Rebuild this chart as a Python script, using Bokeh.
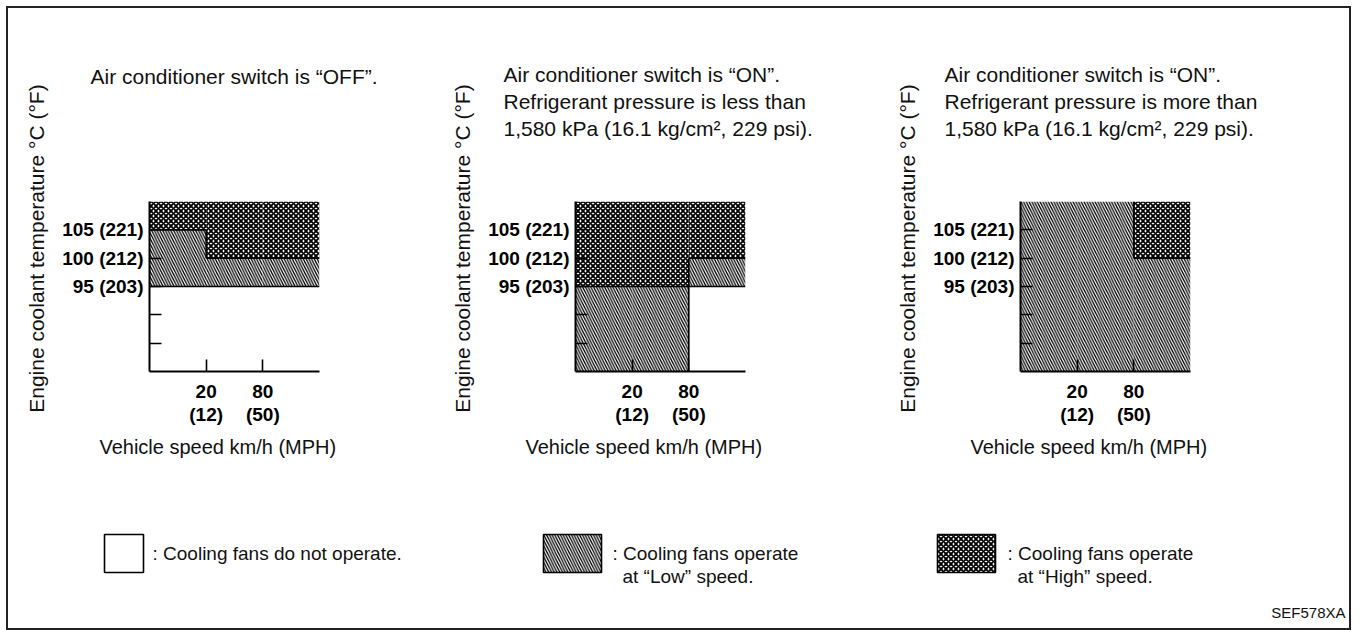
from bokeh.plotting import figure
from bokeh.layouts import row, column
from bokeh.models import Range1d, FixedTicker, Title
from bokeh.embed import file_html
from bokeh.resources import INLINE
from bokeh.core.properties import value

FONT = "Liberation Sans"

# ---------------- data ----------------
speed_kmh = [20, 80]
speed_mph = [12, 50]
temp_ticks_c = [85, 90, 95, 100, 105]
temp_labeled_c = [95, 100, 105]
temp_labeled_f = [203, 212, 221]
temp_min, temp_max = 80, 110

panel_titles = [
    ["Air conditioner switch is \u201cOFF\u201d."],
    ["Air conditioner switch is \u201cON\u201d.",
     "Refrigerant pressure is less than",
     "1,580 kPa (16.1 kg/cm\u00b2, 229 psi)."],
    ["Air conditioner switch is \u201cON\u201d.",
     "Refrigerant pressure is more than",
     "1,580 kPa (16.1 kg/cm\u00b2, 229 psi)."],
]
# speed bands: below 20 km/h, 20-80 km/h, above 80 km/h
band_index = [0, 1, 2]
# temperature (C) where "Low" speed starts, and where "High" speed starts
low_from = [[95, 95, 95], [80, 80, 95], [80, 80, 80]]
high_from = [[105, 100, 100], [95, 95, 100], [110, 110, 100]]

y_axis_title = "Engine coolant temperature \u00b0C (\u00b0F)"
x_axis_title = "Vehicle speed km/h (MPH)"

legend_labels = [
    [": Cooling fans do not operate."],
    [": Cooling fans operate", "at \u201cLow\u201d speed."],
    [": Cooling fans operate", "at \u201cHigh\u201d speed."],
]
legend_patterns = [" ", "\\", "x"]
figure_code = "SEF578XA"

HATCH = {
    " ": dict(hatch_pattern=" "),
    "\\": dict(hatch_pattern="\\", hatch_scale=5.5, hatch_weight=1.3, hatch_color="black"),
    "x": dict(hatch_pattern="x", hatch_scale=5, hatch_weight=1.9, hatch_color="black"),
}

FRAME = 170
NBSP = "\u00a0"
HAS_STANDOFF = "standoff" in Title.properties()
PANEL_BOTTOM = 125   # space below each chart frame (x axis + its titles)


def make_panel(i, left, right, title_dx):
    p = figure(frame_width=FRAME, frame_height=FRAME, title=None,
               min_border_left=left, min_border_right=right,
               min_border_top=193, min_border_bottom=PANEL_BOTTOM,
               x_range=Range1d(0, 3), y_range=Range1d(temp_min, temp_max),
               output_backend="svg", toolbar_location=None, tools="")
    p.outline_line_color = None
    p.grid.visible = False

    lefts = band_index
    rights = [b + 1 for b in band_index]
    p.quad(left=lefts, right=rights, bottom=low_from[i], top=high_from[i],
           fill_color="white", line_color=None, **HATCH["\\"])
    p.quad(left=lefts, right=rights, bottom=high_from[i], top=[temp_max] * 3,
           fill_color="white", line_color=None, **HATCH["x"])

    # boundary lines between zones
    xs, ys = [], []
    for arr in (low_from[i], high_from[i]):
        for k in band_index:
            if temp_min < arr[k] < temp_max:
                xs.append([k, k + 1])
                ys.append([arr[k], arr[k]])
        for k in band_index[:-1]:
            if arr[k] != arr[k + 1]:
                xs.append([k + 1, k + 1])
                ys.append([arr[k], arr[k + 1]])
    p.multi_line(xs, ys, line_color="black", line_width=1.6)

    # y axis
    ya = p.yaxis[0]
    ya.ticker = FixedTicker(ticks=temp_ticks_c)
    ov = {t: "" for t in temp_ticks_c}
    for c, f in zip(temp_labeled_c, temp_labeled_f):
        ov[c] = f"{c} ({f})"
    ya.major_label_overrides = ov
    ya.axis_label = NBSP * 13 + y_axis_title
    # x axis
    xa = p.xaxis[0]
    xa.ticker = FixedTicker(ticks=[1, 2])
    xa.major_label_overrides = {k + 1: f"{s}\n({m})" for k, (s, m) in enumerate(zip(speed_kmh, speed_mph))}
    xa.axis_label = x_axis_title + NBSP * 6
    for ax in (xa, ya):
        ax.axis_line_width = 2
        ax.axis_line_color = "black"
        ax.major_tick_in = 12
        ax.major_tick_out = 0
        ax.major_tick_line_width = 1.6
        ax.major_tick_line_color = "black"
        ax.minor_tick_line_color = None
        ax.major_label_text_font = FONT
        ax.major_label_text_font_style = "bold"
        ax.major_label_text_font_size = "19px"
        ax.major_label_text_color = "black"
        ax.major_label_text_line_height = 1.1
        ax.axis_label_text_font = FONT
        ax.axis_label_text_font_style = "normal"
        ax.axis_label_text_color = "#111"
    ya.axis_label_text_font_size = "21px"
    xa.axis_label_text_font_size = "20px"
    ya.major_label_standoff = 6
    xa.major_label_standoff = 9
    ya.axis_label_standoff = 11
    xa.axis_label_standoff = 8

    # panel headings: a spacer next to the frame, then lines from last to first
    lines = panel_titles[i]
    n = len(lines)
    spacer = dict(text=" ", align="left", text_font=FONT, text_font_size="21px",
                  text_font_style="normal")
    if HAS_STANDOFF:
        spacer["standoff"] = 36 + 26 * (3 - n)
    p.add_layout(Title(**spacer), "above")
    for j in reversed(range(n)):
        kw = dict(text=lines[j], align="left", offset=title_dx,
                  text_font=FONT, text_font_size="21px", text_font_style="normal",
                  text_color="#111")
        if HAS_STANDOFF:
            kw["standoff"] = 2
        p.add_layout(Title(**kw), "above")
    return p


p1 = make_panel(0, 141, 111, -59)
p2 = make_panel(1, 145, 130, -72)
p3 = make_panel(2, 145, 159, -76)

# ---------------- legend strip ----------------
LEG_TOP = 8 + 193 + FRAME + PANEL_BOTTOM   # page y where the legend strip starts
LW, LH = 1341, 628 - LEG_TOP
lg = figure(width=LW, height=LH, x_range=Range1d(0, LW), y_range=Range1d(LH, 0),
            output_backend="svg", toolbar_location=None, tools="", min_border=0)
lg.axis.visible = False
lg.grid.visible = False
lg.outline_line_color = None

sw_left = [96, 535, 929]
sw_width = [39, 58, 58]
txt_x = [144, 604, 999]
sw_top, sw_bottom = 534 - LEG_TOP, 572 - LEG_TOP
for k, pat in enumerate(legend_patterns):
    lg.quad(left=[sw_left[k]], right=[sw_left[k] + sw_width[k]], top=[sw_top], bottom=[sw_bottom],
            fill_color="white", line_color="black", line_width=1.6, **HATCH[pat])
    for j, line in enumerate(legend_labels[k]):
        lg.text(x=[txt_x[k] + (10 if j else 0)], y=[553 - LEG_TOP + 23 * j], text=[line],
                text_font=value(FONT), text_font_size="19px", text_align="left",
                text_baseline="middle", text_color="#111")
lg.text(x=[LW - 4], y=[612 - LEG_TOP], text=[figure_code], text_font=value(FONT),
        text_font_size="15px", text_align="right", text_baseline="middle", text_color="#111")

layout = column(row(p1, p2, p3, spacing=0), lg, spacing=0,
                styles={"border": "2px solid #222", "margin": "6px 0 0 6px"})

open("out.html", "w").write(file_html(layout, INLINE))
